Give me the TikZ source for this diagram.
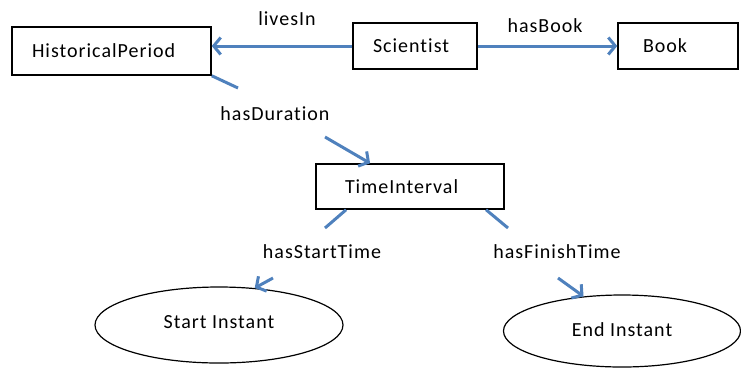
\documentclass[tikz,border=0pt]{standalone}
\usepackage{fontspec}
\setmainfont{Carlito}[LetterSpace=5,Ligatures=NoCommon]
\usetikzlibrary{arrows.meta,shapes.geometric}
\definecolor{arrowblue}{RGB}{79,129,189}
\begin{document}
\begin{tikzpicture}[x=1pt,y=-1pt,
  every node/.style={font=\fontsize{20}{24}\selectfont},
  box/.style={draw=black,line width=1.5pt,rectangle,align=left,inner ysep=0pt,minimum height=46pt},
  oval/.style={draw=black,line width=1.2pt,ellipse,inner sep=0pt},
  rel/.style={draw=arrowblue,line width=3pt},
  relarrow/.style={rel,-{Straight Barb[length=7pt,width=17pt]}},
  lab/.style={anchor=base,inner sep=0pt}]
\useasboundingbox (0,0) rectangle (741,368);

% nodes
\node[box, text width=159pt, inner xsep=20pt, minimum height=48pt] (HP) at (111.5,51) {HistoricalPeriod};
\node[box, text width=84pt, inner xsep=20pt] (Sci) at (415,46) {Scientist};
\node[box, text width=70pt, inner xsep=25pt] (Book) at (678,46) {Book};
\node[box, text width=130pt, inner xsep=29pt, minimum height=45pt] (TI) at (410,186.5) {TimeInterval};
\node[oval, minimum width=248pt, minimum height=76pt] (Start) at (219,325) {\raisebox{6pt}{Start Instant}};
\node[oval, minimum width=237pt, minimum height=72pt] (End) at (622,331) {\raisebox{3pt}{End Instant}};

% labels
\node[lab] (lLives) at (287,25) {livesIn};
\node[lab] (lBook) at (545,32) {hasBook};
\node[lab] (lDur) at (275,120) {hasDuration};
\node[lab] (lStart) at (322,258) {hasStartTime};
\node[lab] (lFin) at (557,258) {hasFinishTime};

% free ends of interrupted connectors
\coordinate (d1) at (238,88);
\coordinate (d2) at (325,137);
\coordinate (s1) at (325,228);
\coordinate (s2) at (273,278);
\coordinate (f1) at (508,228);
\coordinate (f2) at (558,278);

% connectors
\draw[relarrow] (Sci.west) -- (Sci.west -| HP.east);
\draw[relarrow] (Sci) -- (Book);
\draw[rel] (HP.south east) -- (d1);
\draw[relarrow] (d2) -- (TI);
\draw[rel] (TI.200) -- (s1);
\draw[relarrow] (s2) -- (Start.46);
\draw[rel] (TI.-17) -- (f1);
\draw[relarrow] (f2) -- (End.138);
\end{tikzpicture}
\end{document}
